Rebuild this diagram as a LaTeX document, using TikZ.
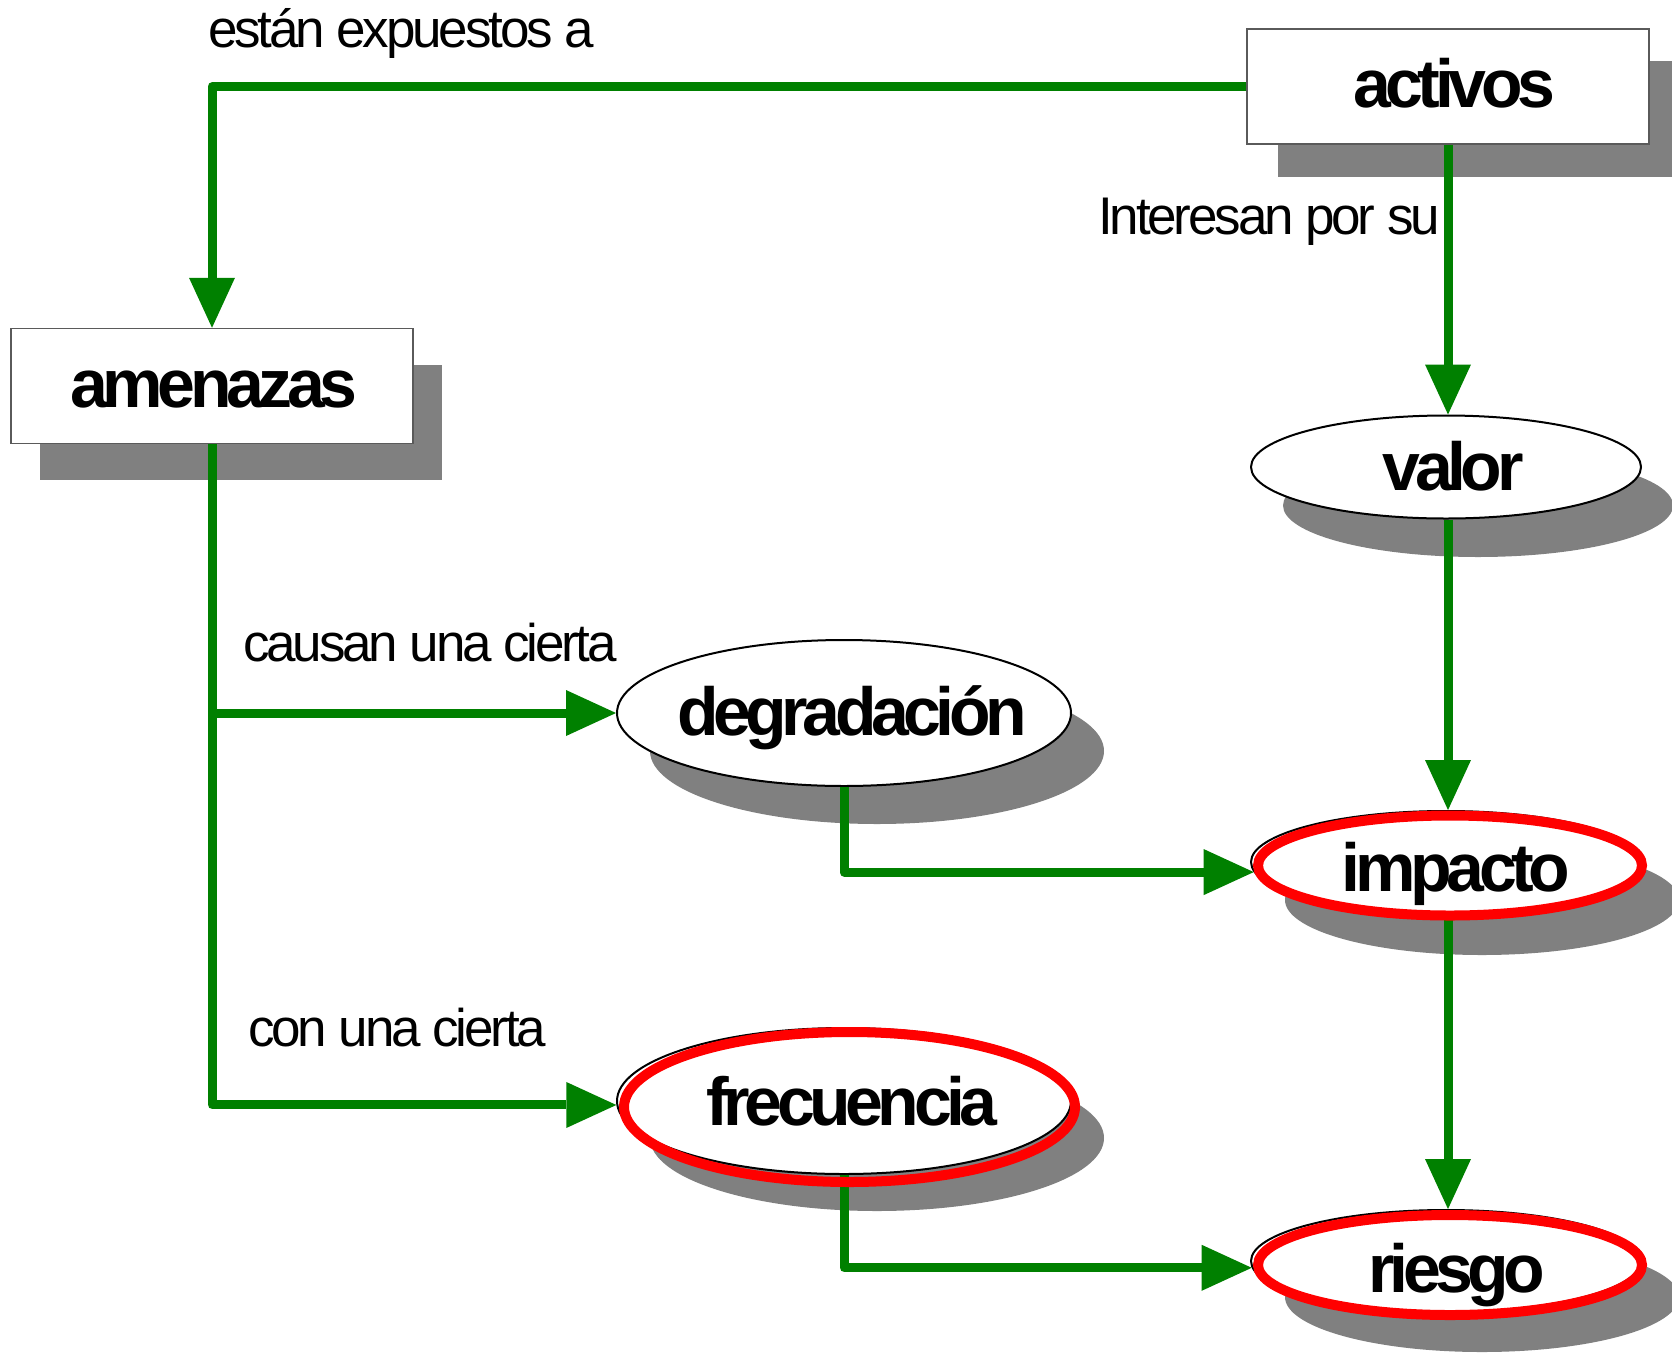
\documentclass[tikz,border=0pt]{standalone}
\usepackage{fontspec}
\setmainfont{Liberation Sans}
\newfontfamily\nodefont[LetterSpace=-8]{Liberation Sans}
\newfontfamily\lblfont[LetterSpace=-6]{Liberation Sans}
\usetikzlibrary{arrows.meta,shapes.geometric,calc}
\definecolor{cgreen}{RGB}{0,128,0}
\definecolor{cshadow}{RGB}{128,128,128}
\definecolor{cred}{RGB}{255,0,0}
\definecolor{cborder}{RGB}{90,90,90}
\tikzset{
  box/.style={rectangle, draw=cborder, line width=1.5pt, fill=white, inner sep=0pt,
    minimum width=402pt, minimum height=115pt},
  oval/.style={ellipse, draw=black, line width=2pt, fill=white, inner sep=0pt},
  conn/.style={draw=cgreen, line width=9pt, line join=round,
    -{Triangle[length=50pt,width=46pt,line width=0pt]}},
  ring/.style={draw=cred, line width=10pt},
  shadowfill/.style={fill=cshadow},
  ntext/.style={anchor=base, inner sep=0pt, font=\nodefont\bfseries\fontsize{68pt}{70pt}\selectfont},
  lbl/.style={anchor=base west, inner sep=0pt, font=\lblfont\fontsize{53pt}{55pt}\selectfont}
}
\begin{document}
\begin{tikzpicture}[x=1pt,y=-1pt]
\useasboundingbox (0,0) rectangle (1672,1352);
\clip (0,0) rectangle (1672,1352);
\fill[white] (0,0) rectangle (1672,1352);
% shadows
\fill[shadowfill] (1278,61) rectangle (1690,177);
\fill[shadowfill] (40,365) rectangle (442,480);
\fill[shadowfill] (1478,505.5) ellipse [x radius=195pt, y radius=51.5pt];
\fill[shadowfill] (877,751) ellipse [x radius=227pt, y radius=73pt];
\fill[shadowfill] (1482,900) ellipse [x radius=197pt, y radius=55pt];
\fill[shadowfill] (877,1138) ellipse [x radius=227pt, y radius=73pt];
\fill[shadowfill] (1482,1297) ellipse [x radius=197pt, y radius=55pt];
% shapes
\node[box] (activos) at (1448,86.5) {};
\node[box] (amenazas) at (212,386) {};
\node[oval, minimum width=390pt, minimum height=103pt] (valor) at (1446,467) {};
\node[oval, minimum width=454pt, minimum height=146pt] (degradacion) at (844,713) {};
\node[oval, minimum width=390pt, minimum height=102pt] (impacto) at (1446,862) {};
\node[oval, minimum width=454pt, minimum height=146pt] (frecuencia) at (844,1101) {};
\node[oval, minimum width=390pt, minimum height=102pt] (riesgo) at (1446,1261) {};
% connectors
\draw[conn] (activos.west) -| (amenazas.north);
\draw[conn] (activos.south) -- (activos.south |- valor.north);
\draw[conn] (valor.south -| activos.south) -- (activos.south |- impacto.north);
\draw[conn] (impacto.south -| activos.south) -- (activos.south |- riesgo.north);
\draw[conn] (amenazas.south) |- (frecuencia.181);
\draw[conn] (amenazas.south |- degradacion.west) -- (degradacion.west);
\draw[conn] (degradacion.south) |- (impacto.183);
\draw[conn] (frecuencia.south) |- (riesgo.182);
% red rings
\draw[ring] (1450,865.5) ellipse [x radius=192pt, y radius=50pt];
\draw[ring] (1450,1265) ellipse [x radius=192pt, y radius=50pt];
\draw[ring] (849.5,1107) ellipse [x radius=225.5pt, y radius=75pt];
% node texts
\node[ntext] (tactivos) at (1454,107) {activos};
\node[ntext] (tamenazas) at (214,407) {amenazas};
\node[ntext] (tvalor) at (1453,490.5) {valor};
\node[ntext] (tdegradacion) at (852,735) {degradación};
\node[ntext] (timpacto) at (1456,891) {impacto};
\node[ntext] (tfrecuencia) at (852,1125) {frecuencia};
\node[ntext] (triesgo) at (1457,1292) {riesgo};
% labels
\node[lbl] (l1) at (208,47) {están expuestos a};
\node[lbl] (l2) at (1098,234) {Interesan por su};
\node[lbl] (l3) at (243,661) {causan una cierta};
\node[lbl] (l4) at (248,1046) {con una cierta};
\end{tikzpicture}
\end{document}
